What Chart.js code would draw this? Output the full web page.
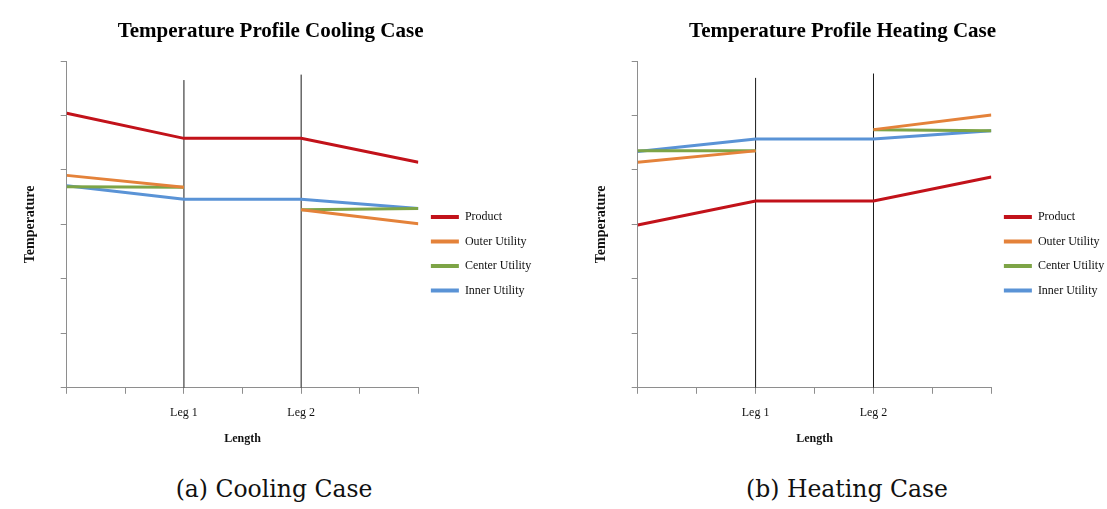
<!DOCTYPE html>
<html>
<head>
<meta charset="utf-8">
<script src="https://cdn.jsdelivr.net/npm/chart.js@4.4.0/dist/chart.umd.min.js"></script>
<style>
  body { margin: 0; background: #fff; width: 1107px; height: 509px; position: relative; overflow: hidden; }
  .panel { position: absolute; top: 0; height: 455px; width: 545px; }
  #coolPanel { left: 0; }
  #heatPanel { left: 571px; }
  .caption { position: absolute; top: 475px; width: 300px; text-align: center;
             font-family: "DejaVu Serif", serif; font-size: 23.5px; color: #111; }
</style>
</head>
<body>
<div class="panel" id="coolPanel"><canvas id="coolingChart"></canvas></div>
<div class="panel" id="heatPanel"><canvas id="heatingChart"></canvas></div>
<div class="caption" style="left:124px">(a) Cooling Case</div>
<div class="caption" style="left:697px">(b) Heating Case</div>

<script>
// x positions along the pipe (axis runs 0..6, Leg 1 at 2, Leg 2 at 4)
const lengthPositions = [0, 2, 4, 6];
const legPositions = [2, 4];
const legLabels = ["Leg 1", "Leg 2"];

const seriesNames = ["Product", "Outer Utility", "Center Utility", "Inner Utility"];
const seriesColors = ["#c2121a", "#e4823a", "#7da446", "#5a93d6"];
// outer and center utility have no line between Leg 1 and Leg 2
const seriesBreaks = [false, true, true, false];

// cooling case (no units on the axis in the original)
const coolingProduct = [5.04, 4.58, 4.58, 4.14];
const coolingOuter   = [3.90, 3.68, 3.27, 3.01];
const coolingCenter  = [3.69, 3.68, 3.27, 3.29];
const coolingInner   = [3.71, 3.46, 3.46, 3.29];
const coolingLegTops = [5.65, 5.75];

// heating case
const heatingProduct = [2.99, 3.43, 3.43, 3.87];
const heatingOuter   = [4.14, 4.35, 4.74, 5.01];
const heatingCenter  = [4.35, 4.35, 4.74, 4.72];
const heatingInner   = [4.34, 4.57, 4.57, 4.72];
const heatingLegTops = [5.69, 5.77];

const axisGray = "#8e8e8e";
const serif = "'Liberation Serif', 'Times New Roman', serif";

// Function to build the datasets for one case
function buildDatasets(seriesList, legTops) {
    const datasets = seriesList.map((values, i) => ({
        label: seriesNames[i],
        data: values.map((v, j) => ({ x: lengthPositions[j], y: v })),
        borderColor: seriesColors[i],
        backgroundColor: seriesColors[i],
        borderWidth: 3,
        pointRadius: 0,
        tension: 0,
        segment: {
            borderColor: (ctx) => (seriesBreaks[i] && ctx.p0DataIndex === 1) ? "rgba(0,0,0,0)" : undefined
        }
    }));

    // the two thin vertical lines marking the legs
    legPositions.forEach((pos, k) => {
        datasets.push({
            label: legLabels[k],
            data: [{ x: pos, y: 0 }, { x: pos, y: legTops[k] }],
            borderColor: "#1a1a1a",
            borderWidth: 1,
            pointRadius: 0,
            order: 10
        });
    });
    return datasets;
}

// Function to make one chart
function makeChart(canvasId, titleText, seriesList, legTops, rightPad) {
    const ctx = document.getElementById(canvasId).getContext("2d");
    return new Chart(ctx, {
        type: "line",
        data: { datasets: buildDatasets(seriesList, legTops) },
        options: {
            responsive: true,
            maintainAspectRatio: false,
            animation: false,
            events: [],
            layout: { padding: { left: 0, top: 0, bottom: 4.4, right: rightPad } },
            scales: {
                x: {
                    type: "linear",
                    min: 0,
                    max: 6,
                    grid: { drawOnChartArea: false, color: axisGray, tickLength: 6 },
                    border: { color: axisGray },
                    ticks: {
                        stepSize: 1,
                        autoSkip: false,
                        padding: 12,
                        color: "#111",
                        font: { family: serif, size: 12 },
                        callback: (value) => {
                            const k = legPositions.indexOf(value);
                            return k >= 0 ? legLabels[k] : "";
                        }
                    },
                    title: {
                        display: true,
                        text: "Length",
                        color: "#111",
                        font: { family: serif, size: 12, weight: "bold" },
                        padding: { top: 0, bottom: 4 }
                    }
                },
                y: {
                    min: 0,
                    max: 6,
                    grid: { drawOnChartArea: false, color: axisGray, tickLength: 6 },
                    border: { color: axisGray },
                    ticks: { stepSize: 1, display: false },
                    title: {
                        display: true,
                        text: "Temperature",
                        color: "#111",
                        font: { family: serif, size: 14, weight: "bold" },
                        padding: { top: 22, bottom: 21.9 }
                    }
                }
            },
            plugins: {
                title: {
                    display: true,
                    text: titleText,
                    color: "#000",
                    font: { family: serif, size: 21, weight: "bold" },
                    padding: { top: 19.4, bottom: 16.4 }
                },
                legend: {
                    position: "right",
                    title: { display: true, text: "", font: { size: 12 }, padding: { top: 0, bottom: 42.4 } },
                    labels: {
                        usePointStyle: true,
                        pointStyle: "line",
                        pointStyleWidth: 28,
                        padding: 12.5,
                        color: "#111",
                        font: { family: serif, size: 12 },
                        filter: (item) => item.datasetIndex < seriesNames.length,
                        generateLabels: (chart) =>
                            Chart.defaults.plugins.legend.labels.generateLabels(chart)
                                .map((item) => ({ ...item, lineWidth: 4 }))
                    }
                },
                tooltip: { enabled: false }
            }
        }
    });
}

makeChart("coolingChart", "Temperature Profile Cooling Case",
    [coolingProduct, coolingOuter, coolingCenter, coolingInner], coolingLegTops, 3.8);
makeChart("heatingChart", "Temperature Profile Heating Case",
    [heatingProduct, heatingOuter, heatingCenter, heatingInner], heatingLegTops, 1.8);
</script>
</body>
</html>
